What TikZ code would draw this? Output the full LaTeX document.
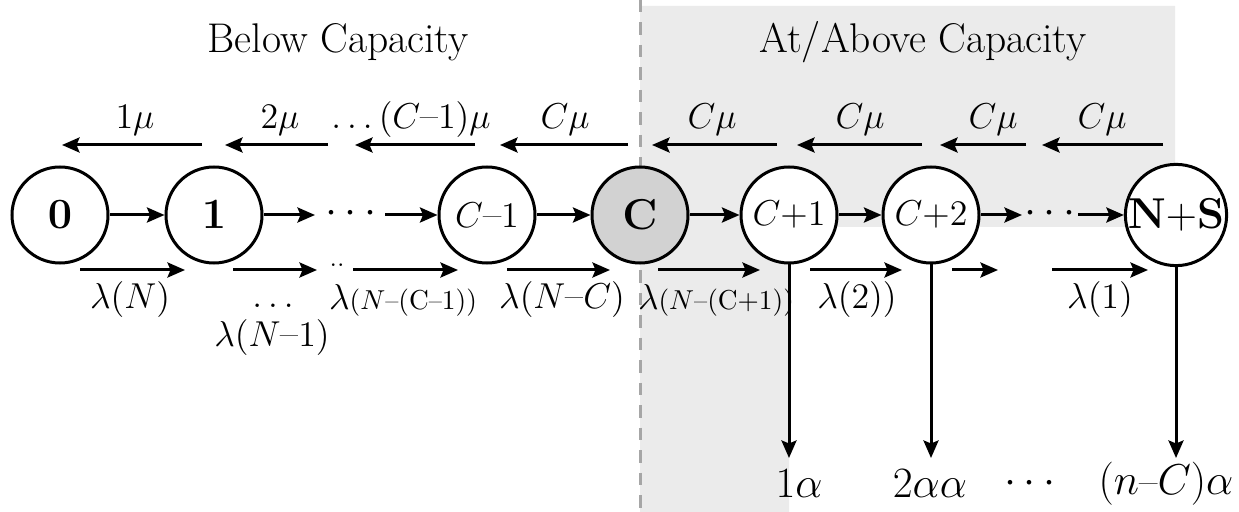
\documentclass[tikz,border=0pt]{standalone}
\usetikzlibrary{arrows.meta}
\begin{document}
\begin{tikzpicture}[x=0.4pt,y=-0.4pt,
  every node/.style={inner sep=0pt},
  st/.style={circle,draw,line width=1.2pt,minimum size=38.4pt,inner sep=0pt,fill=white,font=\fontsize{15.8}{15.8}\selectfont},
  big/.style={font=\fontsize{18}{18}\selectfont},
  arr/.style={line width=1.2pt,-{Stealth[length=7pt,width=6pt,inset=1.2pt]}},
  mul/.style={font=\fontsize{15.5}{15.5}\selectfont},
  laml/.style={font=\fontsize{15.5}{15.5}\selectfont},
  alab/.style={font=\fontsize{18}{18}\selectfont},
  ttl/.style={font=\fontsize{16.6}{16.6}\selectfont},
  dotsn/.style={anchor=base,font=\fontsize{16}{16}\selectfont},
]
\useasboundingbox (0,0) rectangle (1239,512);
% shaded region
\fill[gray!16] (640,6) -- (1175,6) -- (1175,227) -- (789,227) -- (789,512) -- (640,512) -- cycle;
\coordinate (dtop) at (640,0);
\coordinate (dbot) at (640,512);
\draw[black!35,line width=1.2pt,dash pattern=on 5pt off 4pt] (dtop) -- (dbot);
% titles
\node[ttl] (t1) at (338,42) {Below Capacity};
\node[ttl] (t2) at (923,42) {At/Above Capacity};
% states
\node[st,big] (n0) at (60,215) {$\mathbf{0}$};
\node[st,big] (n1) at (214,215) {$\mathbf{1}$};
\node[st] (ncm) at (487,215) {$C$–$1$};
\node[st,big,fill=gray!35] (nc) at (640,215) {$\mathbf{C}$};
\node[st] (nc1) at (789,215) {$C{+}1$};
\node[st] (nc2) at (931,215) {$C{+}2$};
\node[st,font=\fontsize{16}{16}\selectfont] (nns) at (1176,215) {$\mathbf{N{+}S}$};
% middle row
\coordinate (m1) at (315,215);
\coordinate (m2) at (385,215);
\coordinate (m3) at (1022,215);
\coordinate (m4) at (1078,215);
\node[dotsn] (d1) at (351,224) {$\cdots$};
\node[dotsn] (d2) at (1050,224) {$\cdots$};
\draw[arr] (n0) -- (n1);
\draw[arr] (n1) -- (m1);
\draw[arr] (m2) -- (ncm);
\draw[arr] (ncm) -- (nc);
\draw[arr] (nc) -- (nc1);
\draw[arr] (nc1) -- (nc2);
\draw[arr] (nc2) -- (m3);
\draw[arr] (m4) -- (nns);
% service (mu) arrows
\foreach \s/\e/\i in {202/62/1,328/225/2,475/355/3,628/500/4,777/652/5,922/797/6,1026/940/7,1163/1042/8}{
  \coordinate (mus\i) at (\s,145);
  \coordinate (mue\i) at (\e,145);
  \draw[arr] (mus\i) -- (mue\i);
}
\node[mul] (ml1) at (135,120) {$1\mu$};
\node[mul] (ml2) at (280,120) {$2\mu$};
\node[mul] (ml3) at (411,120) {$\ldots(C$–$1)\mu$};
\node[mul] (ml4) at (565,120) {$C\mu$};
\node[mul] (ml5) at (712,120) {$C\mu$};
\node[mul] (ml6) at (860,120) {$C\mu$};
\node[mul] (ml7) at (993,120) {$C\mu$};
\node[mul] (ml8) at (1102,120) {$C\mu$};
% arrival (lambda) arrows
\foreach \s/\e/\i in {80/185/1,233/317/2,353/458/3,507/610/4,658/760/5,810/902/6,952/998/7,1052/1148/8}{
  \coordinate (las\i) at (\s,270);
  \coordinate (lae\i) at (\e,270);
  \draw[arr] (las\i) -- (lae\i);
}
\node[font=\fontsize{11}{11}\selectfont] (dd) at (337,265) {..};
\node[laml] (ll1) at (130,300) {$\lambda(N)$};
\node[mul] (ll2a) at (273,306) {$\ldots$};
\node[laml] (ll2) at (272,338) {$\lambda(N$–$1)$};
\node[laml] (ll3) at (403,300) {$\lambda${\fontsize{10.5}{10.5}\selectfont$(N$–$(\mathrm{C}$–$1))$}};
\node[laml] (ll4) at (562,300) {$\lambda(N$–$C)$};
\node[laml] (ll5) at (716,300) {$\lambda${\fontsize{10.5}{10.5}\selectfont$(N$–$(\mathrm{C}{+}1))$}};
\node[laml] (ll6) at (857,300) {$\lambda(2))$};
\node[laml] (ll8) at (1100,300) {$\lambda(1)$};
% abandonment arrows
\coordinate (e1) at (789,458);
\coordinate (e2) at (931,458);
\coordinate (e3) at (1176,458);
\draw[arr] (nc1) -- (e1);
\draw[arr] (nc2) -- (e2);
\draw[arr] (nns) -- (e3);
\node[alab] (al1) at (799,484) {$1\alpha$};
\node[alab] (al2) at (930,484) {$2\alpha\alpha$};
\node[alab] (al3) at (1030,484) {$\cdots$};
\node[alab,font=\fontsize{16}{16}\selectfont] (al4) at (1166,484) {$(n$–$C)\alpha$};
\end{tikzpicture}
\end{document}
